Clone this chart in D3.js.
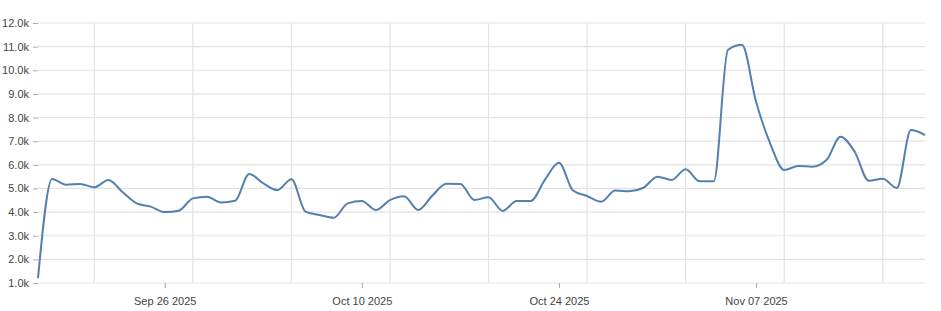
<!DOCTYPE html>
<html>
<head>
<meta charset="utf-8">
<script src="https://cdn.jsdelivr.net/npm/d3@7"></script>
<style>
    body { margin: 0; background: #fff; }
    #chart text { font-family: "Liberation Sans", Arial, sans-serif; }
</style>
</head>
<body>
<div id="chart"></div>
<script>
// Daily values starting on Sep 17 2025
const startDate = new Date(Date.UTC(2025, 8, 17));
const values = [
    1200, 5400, 5160, 5190, 5050, 5360, 4850, 4370, 4230, 4000,
    4060, 4580, 4650, 4410, 4480, 5610, 5220, 4930, 5390, 4020,
    3880, 3760, 4370, 4470, 4090, 4510, 4670, 4090, 4690, 5200,
    5190, 4510, 4630, 4050, 4470, 4470, 5360, 6090, 4910, 4680,
    4440, 4910, 4880, 5030, 5500, 5360, 5810, 5300, 5300, 10860,
    11080, 8670, 6910, 5780, 5950, 5920, 6200, 7190, 6560, 5330,
    5410, 5020, 7470, 7260
];
const labelDates = ["2025-09-26", "2025-10-10", "2025-10-24", "2025-11-07"];
const yTicks = [1000, 2000, 3000, 4000, 5000, 6000, 7000, 8000, 9000, 10000, 11000, 12000];

const data = values.map((v, i) => ({ date: d3.utcDay.offset(startDate, i), value: v }));

const width = 941, height = 311;
const margin = { top: 23, right: 16, bottom: 28, left: 38 };

const svg = d3.select("#chart")
    .append("svg")
    .attr("width", width)
    .attr("height", height);

const x = d3.scaleUtc()
    .domain(d3.extent(data, d => d.date))
    .range([margin.left, width - margin.right]);

const y = d3.scaleLinear()
    .domain([1000, 12000])
    .range([height - margin.bottom, margin.top]);

// horizontal grid
svg.append("g")
    .selectAll("line")
    .data(yTicks)
    .join("line")
    .attr("x1", margin.left)
    .attr("x2", width - margin.right)
    .attr("y1", d => y(d))
    .attr("y2", d => y(d))
    .attr("stroke", "#e3e3e3")
    .attr("stroke-width", 1.2);

// vertical weekly grid
svg.append("g")
    .selectAll("line")
    .data(x.ticks(d3.utcSunday.every(1)))
    .join("line")
    .attr("x1", d => x(d))
    .attr("x2", d => x(d))
    .attr("y1", margin.top)
    .attr("y2", height - margin.bottom)
    .attr("stroke", "#e3e3e3")
    .attr("stroke-width", 1.2);

// y axis
const yAxis = svg.append("g")
    .attr("transform", `translate(${margin.left},0)`)
    .call(d3.axisLeft(y)
        .tickValues(yTicks)
        .tickSize(5)
        .tickPadding(4)
        .tickFormat(d => d3.format(".1f")(d / 1000) + "k"));
yAxis.select(".domain").remove();
yAxis.selectAll(".tick line").attr("stroke", "#aaa");
yAxis.selectAll(".tick text").attr("fill", "#444").style("font-size", "11px");

// x axis
const xAxis = svg.append("g")
    .attr("transform", `translate(0,${height - margin.bottom})`)
    .call(d3.axisBottom(x)
        .tickValues(labelDates.map(d => d3.utcParse("%Y-%m-%d")(d)))
        .tickSize(5)
        .tickPadding(9)
        .tickFormat(d3.utcFormat("%b %d %Y")));
xAxis.select(".domain").remove();
xAxis.selectAll(".tick line").attr("stroke", "#aaa");
xAxis.selectAll(".tick text").attr("fill", "#444").style("font-size", "11px");

// line
const line = d3.line()
    .x(d => x(d.date))
    .y(d => y(d.value))
    .curve(d3.curveMonotoneX);

svg.append("path")
    .datum(data)
    .attr("fill", "none")
    .attr("stroke", "#5480b0")
    .attr("stroke-width", 2)
    .attr("d", line);
</script>
</body>
</html>
